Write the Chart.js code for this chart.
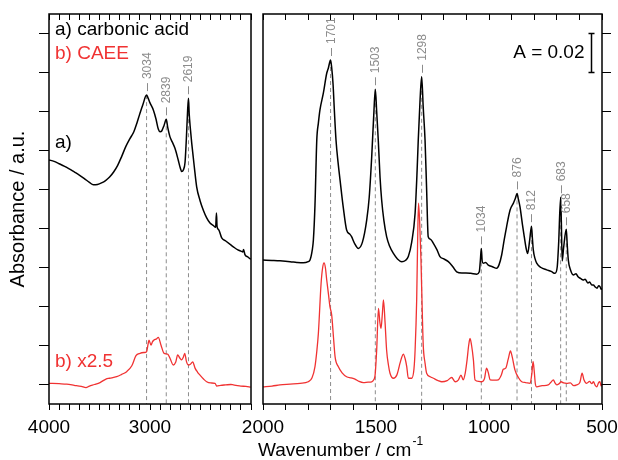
<!DOCTYPE html>
<html>
<head>
<meta charset="utf-8">
<script src="https://cdn.jsdelivr.net/npm/chart.js@4"></script>
<style>
  html, body { margin: 0; padding: 0; background: #fff; }
  #wrap { position: relative; width: 618px; height: 460px; }
  canvas { position: absolute; top: 0; }
  #left { left: 0; }
  #right { left: 236px; }
</style>
</head>
<body>
<div id="wrap">
  <canvas id="left" width="256" height="460"></canvas>
  <canvas id="right" width="382" height="460"></canvas>
</div>
<script>
const FONT = "'Liberation Sans', Arial, Helvetica, sans-serif";
const RED = '#f03232';
const GRAY = '#8c8c8c';

// Etiquetas de los ejes
const leftTickLabels = [4000, 3000];
const rightTickLabels = [2000, 1500, 1000, 500];
const yTicks = [0, 1, 2, 3, 4, 5, 6, 7, 8, 9];

// Picos marcados (número de onda y altura del pico en a))
const leftPeaks = [3034, 2839, 2619];
const leftPeakTops = [7.42, 6.80, 7.34];
const rightPeaks = [1701, 1503, 1298, 1034, 876, 812, 683, 658];
const rightPeakTops = [8.32, 7.57, 7.89, 3.49, 4.90, 4.06, 4.80, 3.98];

// a) ácido carbónico, 4000-2000 cm-1
const acidLeftWn = [4000, 3950, 3900, 3850, 3800, 3750, 3700, 3650, 3600, 3560, 3520, 3480, 3440, 3400, 3360, 3320, 3280, 3240, 3200, 3160, 3130, 3100, 3070, 3034, 3020, 3000, 2967, 2940, 2918, 2900, 2884, 2860, 2839, 2825, 2802, 2780, 2752, 2720, 2700, 2686, 2670, 2653, 2640, 2628, 2619, 2612, 2600, 2587, 2560, 2538, 2505, 2472, 2440, 2406, 2370, 2350, 2342, 2336, 2320, 2290, 2250, 2200, 2175, 2130, 2100, 2080, 2074, 2060, 2030, 2003];
const acidLeftAbs = [5.76, 5.72, 5.66, 5.60, 5.53, 5.45, 5.37, 5.28, 5.18, 5.12, 5.13, 5.17, 5.23, 5.32, 5.45, 5.62, 5.85, 6.10, 6.30, 6.48, 6.70, 6.95, 7.18, 7.42, 7.35, 7.22, 7.04, 6.80, 6.55, 6.48, 6.50, 6.65, 6.80, 6.60, 6.35, 6.22, 6.05, 5.75, 5.55, 5.46, 5.50, 5.70, 6.30, 7.00, 7.34, 6.95, 6.55, 6.19, 5.55, 5.07, 4.72, 4.47, 4.28, 4.14, 4.07, 4.03, 4.40, 4.05, 3.97, 3.76, 3.68, 3.58, 3.53, 3.45, 3.42, 3.40, 3.46, 3.33, 3.27, 3.21];

// b) CAEE x2.5, 4000-2000 cm-1
const caeeLeftWn = [4000, 3900, 3825, 3750, 3680, 3634, 3600, 3550, 3495, 3436, 3400, 3330, 3280, 3231, 3180, 3139, 3099, 3060, 3034, 3018, 3010, 2990, 2975, 2960, 2935, 2918, 2890, 2861, 2825, 2800, 2770, 2745, 2726, 2705, 2686, 2670, 2656, 2640, 2621, 2600, 2577, 2554, 2530, 2505, 2470, 2439, 2400, 2356, 2345, 2340, 2300, 2250, 2200, 2175, 2150, 2100, 2050, 2003];
const caeeLeftAbs = [0.03, 0.02, 0.01, -0.02, -0.05, -0.08, -0.04, 0.00, 0.05, 0.14, 0.16, 0.20, 0.26, 0.33, 0.48, 0.74, 0.80, 0.82, 0.84, 1.05, 1.14, 1.01, 1.10, 1.14, 1.17, 1.21, 1.00, 0.80, 0.78, 0.66, 0.50, 0.58, 0.76, 0.68, 0.63, 0.70, 0.80, 0.60, 0.50, 0.52, 0.58, 0.42, 0.32, 0.24, 0.14, 0.07, 0.04, 0.03, -0.02, -0.04, -0.02, -0.01, 0.00, -0.01, -0.02, -0.04, -0.05, -0.07];

// a) ácido carbónico, 2000-500 cm-1
const acidRightWn = [2000, 1960, 1925, 1880, 1850, 1822, 1800, 1792, 1782, 1777, 1770, 1762, 1755, 1748, 1733, 1718, 1711, 1701, 1696, 1690, 1684, 1677, 1668, 1659, 1645, 1630, 1615, 1608, 1595, 1578, 1560, 1541, 1530, 1519, 1510, 1503, 1497, 1490, 1482, 1475, 1465, 1453, 1440, 1423, 1405, 1386, 1370, 1357, 1342, 1327, 1318, 1313, 1305, 1298, 1291, 1283, 1276, 1269, 1258, 1246, 1230, 1217, 1200, 1180, 1160, 1143, 1120, 1102, 1080, 1054, 1043, 1038, 1034, 1030, 1025, 1015, 1003, 985, 966, 955, 944, 933, 922, 907, 892, 884, 876, 870, 863, 852, 844, 836, 829, 820, 812, 808, 804, 796, 789, 770, 745, 725, 708, 698, 692, 683, 680, 676, 670, 658, 654, 649, 640, 627, 615, 606, 595, 583, 575, 562, 555, 545, 538, 530, 522, 515, 509, 503, 500];
const acidRightAbs = [3.19, 3.18, 3.17, 3.15, 3.13, 3.12, 3.15, 3.19, 3.45, 3.71, 4.60, 6.27, 6.70, 7.04, 7.47, 7.98, 8.11, 8.32, 8.12, 7.70, 7.00, 6.27, 5.70, 5.24, 4.55, 3.96, 3.85, 3.79, 3.62, 3.49, 3.65, 4.22, 4.80, 5.84, 6.90, 7.57, 7.00, 6.27, 5.30, 4.73, 4.20, 3.79, 3.55, 3.36, 3.22, 3.15, 3.18, 3.28, 3.65, 4.39, 5.50, 6.27, 7.30, 7.89, 7.10, 6.27, 5.00, 3.79, 3.72, 3.62, 3.45, 3.28, 3.22, 3.15, 3.02, 2.89, 2.86, 2.86, 2.85, 2.83, 2.89, 3.20, 3.49, 3.15, 3.11, 3.13, 3.06, 3.02, 2.98, 3.08, 3.32, 3.70, 4.05, 4.47, 4.65, 4.76, 4.90, 4.75, 4.56, 4.10, 3.79, 3.50, 3.36, 3.70, 4.06, 3.75, 3.45, 3.22, 3.11, 3.00, 2.94, 2.90, 2.85, 3.02, 3.60, 4.80, 4.20, 3.17, 3.50, 3.98, 3.60, 3.19, 2.95, 2.81, 2.84, 2.76, 2.72, 2.68, 2.70, 2.60, 2.63, 2.55, 2.55, 2.50, 2.47, 2.53, 2.51, 2.44, 2.47];

// b) CAEE x2.5, 2000-500 cm-1
const caeeRightWn = [2000, 1960, 1925, 1880, 1836, 1800, 1783, 1770, 1762, 1755, 1743, 1736, 1730, 1724, 1718, 1710, 1704, 1696, 1688, 1681, 1667, 1650, 1630, 1610, 1593, 1575, 1556, 1535, 1519, 1510, 1504, 1497, 1489, 1483, 1478, 1472, 1467, 1460, 1453, 1445, 1438, 1423, 1408, 1400, 1394, 1386, 1379, 1371, 1364, 1357, 1342, 1332, 1327, 1320, 1316, 1312, 1307, 1301, 1295, 1291, 1283, 1276, 1260, 1246, 1225, 1209, 1185, 1165, 1150, 1135, 1124, 1114, 1105, 1097, 1090, 1084, 1077, 1069, 1062, 1045, 1032, 1020, 1011, 1003, 995, 975, 959, 945, 937, 926, 915, 905, 897, 885, 870, 855, 838, 818, 810, 805, 800, 795, 789, 765, 738, 727, 715, 708, 700, 690, 681, 670, 656, 640, 625, 612, 598, 588, 580, 568, 555, 545, 538, 530, 523, 515, 509, 504, 500];
const caeeRightAbs = [-0.06, -0.04, -0.01, 0.01, 0.03, 0.07, 0.17, 0.46, 0.85, 1.31, 2.59, 3.00, 3.12, 3.00, 2.68, 2.30, 2.00, 1.78, 1.20, 0.71, 0.46, 0.30, 0.20, 0.17, 0.14, 0.08, 0.05, 0.06, 0.07, 0.12, 0.24, 0.88, 1.95, 1.60, 1.44, 1.80, 2.17, 1.60, 0.88, 0.50, 0.29, 0.16, 0.24, 0.40, 0.54, 0.70, 0.78, 0.66, 0.46, 0.16, 0.16, 0.40, 0.88, 2.17, 3.60, 4.65, 4.20, 3.19, 1.80, 1.01, 0.55, 0.29, 0.20, 0.16, 0.10, 0.07, 0.10, 0.18, 0.07, 0.12, 0.24, 0.12, 0.30, 0.63, 1.00, 1.18, 1.00, 0.63, 0.12, 0.08, 0.07, 0.15, 0.42, 0.30, 0.12, 0.11, 0.12, 0.25, 0.39, 0.42, 0.65, 0.86, 0.70, 0.37, 0.18, 0.07, 0.05, 0.03, 0.30, 0.59, 0.35, 0.02, -0.06, -0.03, -0.01, 0.05, 0.12, 0.04, -0.01, 0.02, 0.07, 0.04, 0.03, 0.04, -0.03, -0.01, 0.05, 0.29, 0.12, 0.03, 0.08, 0.02, 0.07, -0.02, -0.06, 0.05, 0.07, -0.04, 0.01];

const Y_MIN = -0.5, Y_MAX = 9.5;

const pair = (wn, abs) => wn.map((x, i) => ({ x, y: abs[i] }));

function spectrum(wn, abs, color, width) {
  return {
    data: pair(wn, abs),
    borderColor: color,
    borderWidth: width,
    pointRadius: 0,
    cubicInterpolationMode: 'monotone',
    fill: false
  };
}

function dropLines(peaks, tops) {
  return peaks.map((p, i) => ({
    data: [{ x: p, y: tops[i] }, { x: p, y: Y_MIN }],
    borderColor: GRAY,
    borderWidth: 1,
    borderDash: [4, 3],
    pointRadius: 0,
    fill: false
  }));
}

function stepTicks(min, max) {
  return scale => {
    const t = [];
    for (let v = min; v <= max; v += 100) t.push({ value: v });
    scale.ticks = t;
  };
}

function xAxes(min, max, labels) {
  return {
    x: {
      type: 'linear', position: 'bottom', reverse: true, min, max,
      afterBuildTicks: stepTicks(min, max),
      afterFit: s => { s.height = 56; },
      border: { display: false },
      grid: { drawOnChartArea: false, tickLength: 6, color: '#000', lineWidth: 1 },
      ticks: {
        autoSkip: false, maxRotation: 0, padding: 6, color: '#000',
        font: { family: FONT, size: 19 },
        callback: v => labels.includes(v) ? String(v) : ''
      }
    },
    xTop: {
      type: 'linear', position: 'top', reverse: true, min, max,
      afterBuildTicks: stepTicks(min, max),
      afterFit: s => { s.height = 14; },
      border: { display: false },
      grid: { drawOnChartArea: false, tickLength: -6, color: '#000', lineWidth: 1 },
      ticks: { display: false }
    }
  };
}

function drawFrame(ctx, a) {
  ctx.save();
  ctx.strokeStyle = '#000';
  ctx.lineWidth = 1.5;
  ctx.strokeRect(a.left, a.top, a.right - a.left, a.bottom - a.top);
  ctx.restore();
}

function drawPeakLabels(ctx, xs, ys, peaks, tops) {
  ctx.save();
  ctx.strokeStyle = GRAY;
  ctx.fillStyle = GRAY;
  ctx.lineWidth = 1;
  ctx.font = `12px ${FONT}`;
  peaks.forEach((p, i) => {
    const x = Math.round(xs.getPixelForValue(p)) + 0.5;
    const y = ys.getPixelForValue(tops[i]);
    ctx.beginPath();
    ctx.moveTo(x, y - 4);
    ctx.lineTo(x, y - 12);
    ctx.stroke();
    ctx.save();
    ctx.translate(x, y - 16);
    ctx.rotate(-Math.PI / 2);
    ctx.textAlign = 'left';
    ctx.textBaseline = 'middle';
    ctx.fillText(String(p), 0, 0);
    ctx.restore();
  });
  ctx.restore();
}

const leftDecor = {
  id: 'leftDecor',
  afterDraw(chart) {
    const { ctx, chartArea: a, scales } = chart;
    drawFrame(ctx, a);
    drawPeakLabels(ctx, scales.x, scales.y, leftPeaks, leftPeakTops);
    ctx.save();
    ctx.font = `19px ${FONT}`;
    ctx.textAlign = 'left';
    ctx.textBaseline = 'middle';
    ctx.fillStyle = '#000';
    ctx.fillText('a) carbonic acid', a.left + 6, 30);
    ctx.fillText('a)', a.left + 6, 143);
    ctx.fillStyle = RED;
    ctx.fillText('b) CAEE', a.left + 6, 54);
    ctx.fillText('b) x2.5', a.left + 6, 362);
    ctx.restore();
  }
};

const rightDecor = {
  id: 'rightDecor',
  afterDraw(chart) {
    const { ctx, chartArea: a, scales } = chart;
    drawFrame(ctx, a);
    drawPeakLabels(ctx, scales.x, scales.y, rightPeaks, rightPeakTops);
    // barra de escala A = 0.02
    const bx = a.right - 10.5;
    const y1 = scales.y.getPixelForValue(9);
    const y2 = scales.y.getPixelForValue(8);
    ctx.save();
    ctx.strokeStyle = '#000';
    ctx.lineWidth = 1.5;
    ctx.beginPath();
    ctx.moveTo(bx, y1); ctx.lineTo(bx, y2);
    ctx.moveTo(bx - 3, y1); ctx.lineTo(bx + 3, y1);
    ctx.moveTo(bx - 3, y2); ctx.lineTo(bx + 3, y2);
    ctx.stroke();
    ctx.font = `19px ${FONT}`;
    ctx.fillStyle = '#000';
    ctx.textAlign = 'right';
    ctx.textBaseline = 'middle';
    ctx.fillText('A = 0.02', bx - 7, (y1 + y2) / 2);
    // título del eje x
    ctx.textAlign = 'left';
    ctx.textBaseline = 'alphabetic';
    const label = 'Wavenumber / cm';
    const tx = a.left - 5;
    ctx.fillText(label, tx, 456);
    const w = ctx.measureText(label).width;
    ctx.font = `12px ${FONT}`;
    ctx.fillText('-1', tx + w + 1, 445);
    ctx.restore();
  }
};

const common = {
  responsive: false,
  animation: false,
  devicePixelRatio: 1,
  plugins: { legend: { display: false }, tooltip: { enabled: false } }
};

new Chart(document.getElementById('left').getContext('2d'), {
  type: 'line',
  data: {
    datasets: [
      spectrum(acidLeftWn, acidLeftAbs, '#000', 1.5),
      spectrum(caeeLeftWn, caeeLeftAbs, RED, 1.3),
      ...dropLines(leftPeaks, leftPeakTops)
    ]
  },
  options: {
    ...common,
    layout: { padding: { left: 0, right: 5, top: 0, bottom: 0 } },
    scales: {
      ...xAxes(2000, 4000, leftTickLabels),
      y: {
        type: 'linear', position: 'left', min: Y_MIN, max: Y_MAX,
        afterBuildTicks: s => { s.ticks = yTicks.map(v => ({ value: v })); },
        afterFit: s => { s.width = 49; },
        border: { display: false },
        grid: { drawOnChartArea: false, tickLength: 10, color: '#000', lineWidth: 1 },
        ticks: { display: false },
        title: {
          display: true, text: 'Absorbance / a.u.', color: '#000',
          font: { family: FONT, size: 20 }, padding: { top: 6, bottom: 0 }
        }
      }
    }
  },
  plugins: [leftDecor]
});

new Chart(document.getElementById('right').getContext('2d'), {
  type: 'line',
  data: {
    datasets: [
      spectrum(acidRightWn, acidRightAbs, '#000', 1.5),
      spectrum(caeeRightWn, caeeRightAbs, RED, 1.3),
      ...dropLines(rightPeaks, rightPeakTops)
    ]
  },
  options: {
    ...common,
    layout: { padding: { left: 27, right: 0, top: 0, bottom: 0 } },
    scales: {
      ...xAxes(500, 2000, rightTickLabels),
      y: {
        type: 'linear', position: 'right', min: Y_MIN, max: Y_MAX,
        afterBuildTicks: s => { s.ticks = yTicks.map(v => ({ value: v })); },
        afterFit: s => { s.width = 16; },
        border: { display: false },
        grid: { drawOnChartArea: false, tickLength: 9, color: '#000', lineWidth: 1 },
        ticks: { display: false }
      }
    }
  },
  plugins: [rightDecor]
});
</script>
</body>
</html>
